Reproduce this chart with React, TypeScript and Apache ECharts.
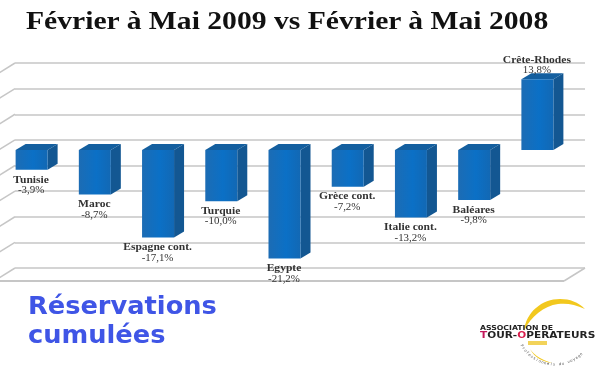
import React, { useEffect, useRef } from "react";
import * as echarts from "echarts";

const titleText = "Février à Mai 2009 vs Février à Mai 2008";
const captionLines = "Réservations\ncumulées";
const categories = ["Tunisie", "Maroc", "Espagne cont.", "Turquie", "Egypte", "Grèce cont.", "Italie cont.", "Baléares", "Crête-Rhodes"];
const values = [-3.9, -8.7, -17.1, -10.0, -21.2, -7.2, -13.2, -9.8, 13.8];
const valueLabels = ["-3,9%", "-8,7%", "-17,1%", "-10,0%", "-21,2%", "-7,2%", "-13,2%", "-9,8%", "13,8%"];
const wallTicks = [-25, -20, -15, -10, -5, 0, 5, 10, 15];
const logoArcText = "Professionnels du voyage";

const serif = "'Liberation Serif', serif";
const sans = "'DejaVu Sans', sans-serif";

const crescentPath =
  "M524 331C526 312 542 299 560 299C570 299 578 302 585 309C575 304 566 303 558 304C544 306 531 316 524 331Z" +
  "M530 349C535 356 542 360 552 363C543 362 534 357 530 349Z";
echarts.graphic.registerShape("logoCrescent", echarts.graphic.extendPath(crescentPath, {}) as any);

function App() {
  const ref = useRef<HTMLDivElement>(null);
  useEffect(() => {
    document.body.style.margin = "0";
    const chart = echarts.init(ref.current!, undefined, { renderer: "svg" });
    const sideDx = 10;
    const sideDy = -6;
    const barW = 32;
    const depthDx = -21;
    const depthDy = 13;
    const line = { stroke: "#c6c6c6", lineWidth: 1.5 };

    const arcLetters = logoArcText.split("").map((ch, i, arr) => {
      const deg = 149 - (i / (arr.length - 1)) * 102;
      const rad = (deg * Math.PI) / 180;
      return {
        type: "text",
        x: 555 + 38 * Math.cos(rad),
        y: 326 + 38 * Math.sin(rad),
        rotation: (-(deg - 90) * Math.PI) / 180,
        style: { text: ch, font: `3.8px ${sans}`, fill: "#555555", align: "center", verticalAlign: "middle" },
      };
    });

    chart.setOption({
      animation: false,
      backgroundColor: "#ffffff",
      grid: [
        { left: 15, width: 570, top: 63, height: 205 },
        { left: 0, width: 569, top: 73, height: 205 },
      ],
      xAxis: [
        { gridIndex: 0, type: "value", min: 0, max: 1, show: false },
        { gridIndex: 1, type: "category", data: categories, show: false },
      ],
      yAxis: [
        {
          gridIndex: 0,
          type: "value",
          min: -25,
          max: 15,
          interval: 5,
          axisLine: { show: false },
          axisTick: { show: false },
          axisLabel: { show: false },
          splitLine: { show: true, lineStyle: { color: "#c6c6c6", width: 1.5 } },
        },
        { gridIndex: 1, type: "value", min: -25, max: 15, interval: 5, show: false },
      ],
      series: [
        {
          type: "custom",
          xAxisIndex: 0,
          yAxisIndex: 0,
          clip: false,
          silent: true,
          data: wallTicks.map((t) => [0, t]),
          renderItem(_p: any, api: any) {
            const p = api.coord([0, api.value(1)]);
            const children: any[] = [
              { type: "line", shape: { x1: p[0], y1: p[1], x2: p[0] + depthDx, y2: p[1] + depthDy }, style: line },
            ];
            if (api.value(1) === wallTicks[0]) {
              const q = api.coord([1, api.value(1)]);
              children.push(
                { type: "line", shape: { x1: p[0] + depthDx, y1: p[1] + depthDy, x2: q[0] + depthDx, y2: q[1] + depthDy }, style: { ...line, lineWidth: 2 } },
                { type: "line", shape: { x1: q[0], y1: q[1], x2: q[0] + depthDx, y2: q[1] + depthDy }, style: line },
              );
            }
            return { type: "group", children };
          },
        },
        {
          type: "custom",
          xAxisIndex: 1,
          yAxisIndex: 1,
          clip: false,
          silent: true,
          data: values.map((v, i) => [i, v]),
          renderItem(_p: any, api: any) {
            const i = api.value(0);
            const v = api.value(1);
            const a = api.coord([i, 0]);
            const b = api.coord([i, v]);
            const l = a[0] - barW / 2;
            const r = a[0] + barW / 2;
            const top = Math.min(a[1], b[1]);
            const bot = Math.max(a[1], b[1]);
            const front = new echarts.graphic.LinearGradient(0, 0, 1, 0, [
              { offset: 0, color: "#1c6cb4" },
              { offset: 0.55, color: "#0b70c6" },
              { offset: 1, color: "#1268b4" },
            ]);
            const nameY = v < 0 ? bot + 9.5 : top - 19;
            const valY = v < 0 ? bot + 20 : top - 9;
            const txt = (text: string, y: number, weight: string, scaleX: number) => ({
              type: "text",
              x: a[0] - 0.5,
              y,
              scaleX,
              style: { text, fill: "#333333", font: `${weight} 9.5px ${serif}`, align: "center", verticalAlign: "middle" },
            });
            return {
              type: "group",
              children: [
                {
                  type: "polygon",
                  shape: { points: [[l, top], [l + sideDx, top + sideDy], [r + sideDx, top + sideDy], [r, top]] },
                  style: { fill: "#145f9f" },
                },
                {
                  type: "polygon",
                  shape: { points: [[r, top], [r + sideDx, top + sideDy], [r + sideDx, bot + sideDy], [r, bot]] },
                  style: { fill: "#135792" },
                },
                { type: "rect", shape: { x: l, y: top, width: barW, height: bot - top }, style: { fill: front } },
                txt(categories[i], nameY, "bold", 1.22),
                txt(valueLabels[i], valY, "normal", 1.15),
              ],
            };
          },
        },
      ],
      graphic: [
        {
          type: "text",
          x: 26,
          y: 8,
          scaleX: 1.186,
          style: { text: titleText, font: `bold 25px ${serif}`, fill: "#111111" },
        },
        {
          type: "text",
          x: 28,
          y: 291,
          scaleX: 1.07,
          style: { text: captionLines, font: `bold 24px ${sans}`, fill: "#3f55e6", lineHeight: 29 },
        },
        { type: "logoCrescent", x: 0, y: 0, style: { fill: "#f2c81e" } },
        {
          type: "rect",
          shape: { x: 528, y: 341, width: 19, height: 4 },
          style: { fill: "#f2d35a" },
        },
        ...arcLetters,
        {
          type: "text",
          x: 480,
          y: 324,
          scaleX: 1.14,
          style: { text: "ASSOCIATION DE", font: `bold 6.8px ${sans}`, fill: "#222222" },
        },
        {
          type: "text",
          x: 480,
          y: 330.5,
          scaleX: 1.2,
          style: {
            text: "{r|T}OUR-{o|O}PERATEURS",
            font: `bold 8.8px ${sans}`,
            fill: "#222222",
            rich: {
              r: { fill: "#c2185b", font: `bold 8.8px ${sans}` },
              o: { fill: "#d81b4a", font: `bold 8.8px ${sans}` },
            },
          },
        },
      ],
    });
    return () => chart.dispose();
  }, []);
  return <div ref={ref} style={{ width: 600, height: 372, filter: "blur(0.4px)" }} />;
}

export default App;
